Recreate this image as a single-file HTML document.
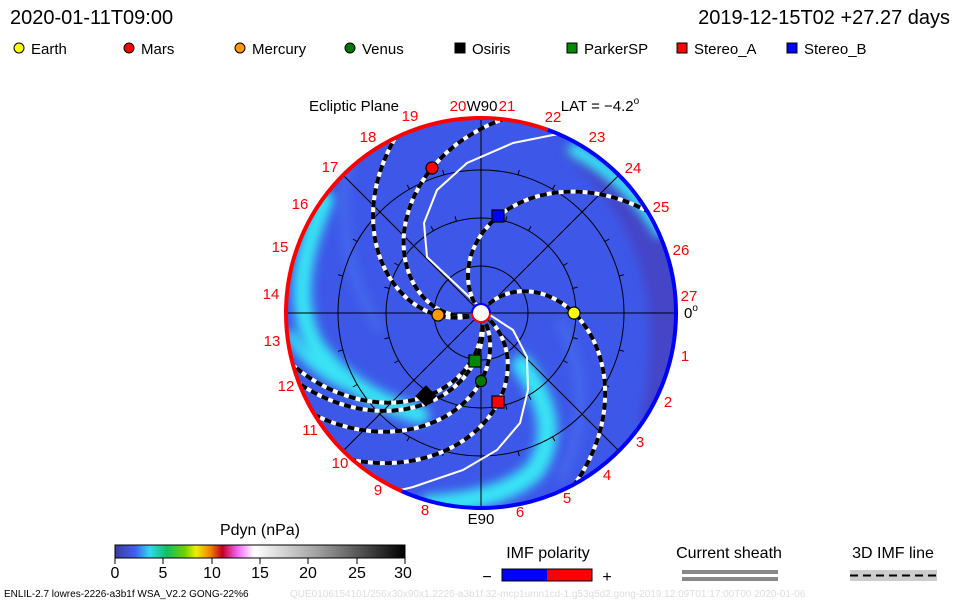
<!DOCTYPE html>
<html><head><meta charset="utf-8"><style>
html,body{margin:0;padding:0;background:#fff;}
svg{display:block;font-family:"Liberation Sans",sans-serif;}
</style></head><body>
<svg id="s" width="960" height="600" viewBox="0 0 960 600" xmlns="http://www.w3.org/2000/svg">
<defs>
<clipPath id="cc"><circle cx="481" cy="313" r="195"/></clipPath>
<filter id="bl" x="-20%" y="-20%" width="140%" height="140%"><feGaussianBlur stdDeviation="5"/></filter>
<linearGradient id="cb" x1="0" x2="1" y1="0" y2="0">
<stop offset="0" stop-color="#3a3aa0"/><stop offset="0.07" stop-color="#4060f0"/><stop offset="0.12" stop-color="#30d8f0"/><stop offset="0.18" stop-color="#10c060"/><stop offset="0.24" stop-color="#70d000"/><stop offset="0.28" stop-color="#f0f000"/><stop offset="0.33" stop-color="#f08000"/><stop offset="0.37" stop-color="#c00020"/><stop offset="0.42" stop-color="#f060f0"/><stop offset="0.48" stop-color="#ffffff"/><stop offset="0.7" stop-color="#a0a0a0"/><stop offset="1" stop-color="#000"/>
</linearGradient>
</defs>
<text x="10" y="24" font-size="20">2020-01-11T09:00</text>
<text x="950" y="24" font-size="20" text-anchor="end">2019-12-15T02 +27.27 days</text>
<g font-size="15" stroke="#000" stroke-width="1">
<circle cx="19" cy="48" r="5" fill="#ff0"/><circle cx="129" cy="48" r="5" fill="#f00"/><circle cx="240" cy="48" r="5" fill="#f90"/><circle cx="350" cy="48" r="5" fill="#070"/>
<rect x="455" y="43" width="10" height="10" fill="#000"/><rect x="567" y="43" width="10" height="10" fill="#080"/><rect x="677" y="43" width="10" height="10" fill="#f00"/><rect x="787" y="43" width="10" height="10" fill="#00f"/>
</g>
<g font-size="15"><text x="31" y="54">Earth</text><text x="141" y="54">Mars</text><text x="252" y="54">Mercury</text><text x="362" y="54">Venus</text><text x="472" y="54">Osiris</text><text x="584" y="54">ParkerSP</text><text x="694" y="54">Stereo_A</text><text x="804" y="54">Stereo_B</text></g>

<g clip-path="url(#cc)">
<circle cx="481" cy="313" r="195" fill="#3d58e8"/>
<path d="M560,150 Q680,250 640,420 L700,500 L700,120 Z" fill="#4444c8" filter="url(#bl)"/>
<g fill="none" stroke="#38e4f4" stroke-linecap="round" filter="url(#bl)">
<path d="M325,200 Q285,290 315,345 Q350,395 420,415" stroke-width="18"/>
<path d="M522,365 Q565,425 535,470 Q505,500 430,505" stroke-width="20"/>
<path d="M575,150 Q630,180 660,230" stroke-width="14"/>
<path d="M290,335 Q305,365 345,385" stroke-width="10"/>
</g>
<g fill="none" stroke="#4a70f0" stroke-width="10" filter="url(#bl)" opacity="0.7">
<path d="M350,150 Q330,250 380,330"/><path d="M560,320 Q600,400 560,480"/>
</g>
<g stroke="#000" stroke-width="1" fill="none">
<circle cx="481" cy="313" r="47"/><circle cx="481" cy="313" r="95"/><circle cx="481" cy="313" r="143"/>
<line x1="286" y1="313" x2="676" y2="313"/><line x1="481" y1="118" x2="481" y2="508"/>
<line x1="343" y1="175" x2="619" y2="451"/><line x1="343" y1="451" x2="619" y2="175"/>
</g>
<g id="ticks" stroke="#000" stroke-width="1"></g>
<g fill="none" stroke="#fff" stroke-width="2">
<polyline points="480,307 427,257 424,223 437,190 467,163 513,143 553,135 580,133"/>
<polyline points="490,315 513,330 527,357 528,390 520,423 497,450 463,470 413,487 380,495"/>
</g>
<g id="sp"></g>
</g>
<path id="rimb" fill="none" stroke="#0000ff" stroke-width="4"/>
<path id="rimr" fill="none" stroke="#ff0000" stroke-width="4"/>
<circle cx="481" cy="313" r="9" fill="#fff" stroke="#f00" stroke-width="2"/>
<path d="M472,313 A9,9 0 0 1 490,313" fill="none" stroke="#00f" stroke-width="2"/>
<g stroke="#000" stroke-width="1.2">
<circle cx="574" cy="313" r="6" fill="#ff0"/><circle cx="432" cy="168" r="6" fill="#f00"/><circle cx="438" cy="315" r="6" fill="#f90"/><circle cx="481" cy="381" r="5.5" fill="#070"/>
<rect x="419" y="389" width="14" height="14" fill="#000" transform="rotate(45 426 396)"/>
<rect x="469" y="355" width="12" height="12" fill="#080"/><rect x="492" y="396" width="12" height="12" fill="#f00"/><rect x="492" y="210" width="12" height="12" fill="#00f"/>
</g>
<g font-size="15" fill="#f00" text-anchor="middle" id="lbl"></g>
<text x="354" y="111" font-size="15" text-anchor="middle">Ecliptic Plane</text>
<text x="482" y="111" font-size="15" text-anchor="middle">W90</text>
<text x="600" y="111" font-size="15" text-anchor="middle">LAT = −4.2<tspan font-size="10" dy="-7">o</tspan></text>
<text x="691" y="318" font-size="15" text-anchor="middle">0<tspan font-size="10" dy="-7">o</tspan></text>
<text x="481" y="524" font-size="15" text-anchor="middle">E90</text>

<text x="260" y="535" font-size="16" text-anchor="middle">Pdyn (nPa)</text>
<rect x="115" y="545" width="290" height="13" fill="url(#cb)" stroke="#000"/>
<g stroke="#000"><line x1="115" y1="558" x2="115" y2="564"/><line x1="163" y1="558" x2="163" y2="564"/><line x1="212" y1="558" x2="212" y2="564"/><line x1="260" y1="558" x2="260" y2="564"/><line x1="308" y1="558" x2="308" y2="564"/><line x1="357" y1="558" x2="357" y2="564"/><line x1="405" y1="558" x2="405" y2="564"/></g>
<g font-size="16" text-anchor="middle"><text x="115" y="578">0</text><text x="163" y="578">5</text><text x="212" y="578">10</text><text x="260" y="578">15</text><text x="308" y="578">20</text><text x="357" y="578">25</text><text x="403" y="578">30</text></g>
<text x="548" y="558" font-size="16" text-anchor="middle">IMF polarity</text>
<text x="487" y="582" font-size="16" text-anchor="middle">−</text>
<rect x="502" y="569" width="45" height="12" fill="#00f"/><rect x="547" y="569" width="45" height="12" fill="#f00"/><rect x="502" y="569" width="90" height="12" fill="none" stroke="#000"/>
<text x="607" y="582" font-size="16" text-anchor="middle">+</text>
<text x="729" y="558" font-size="16" text-anchor="middle">Current sheath</text>
<rect x="682" y="570" width="96" height="4" fill="#888"/><rect x="682" y="577" width="96" height="4" fill="#888"/>
<text x="893" y="558" font-size="16" text-anchor="middle">3D IMF line</text>
<rect x="850" y="570" width="87" height="11" fill="#ccc"/>
<line x1="850" y1="575.5" x2="937" y2="575.5" stroke="#000" stroke-width="2" stroke-dasharray="8 5"/>
<text x="4" y="597" font-size="10">ENLIL-2.7 lowres-2226-a3b1f WSA_V2.2 GONG-22%6</text>
<text x="290" y="597" font-size="10" fill="#ddd">QUE0106154101/256x30x90x1.2226-a3b1f.32-mcp1umn1cd-1.g53q5d2.gong-2019:12:09T01:17:00T00    2020-01-06</text>
</svg>
<script>
(function(){
var NS="http://www.w3.org/2000/svg",cx=481,cy=313,d2r=Math.PI/180;
function el(t,a,p){var e=document.createElementNS(NS,t);for(var k in a)e.setAttribute(k,a[k]);p.appendChild(e);return e;}
var L=[[93,0,0.6],[153,-108.7,0.6],[43,177,0.44],[68,90,0.46],[100,123.5,0.43],[48,97,0.42],[91,79,0.5],[98,-80,0.5]];
var sp=document.getElementById("sp");
L.forEach(function(l){var pts=[];for(var r=12;r<=200;r+=3){var t=(l[1]+(r-l[0])*l[2])*d2r;pts.push((cx+r*Math.cos(t)).toFixed(1)+","+(cy+r*Math.sin(t)).toFixed(1));}
var s=pts.join(" ");
el("polyline",{points:s,fill:"none",stroke:"#fff","stroke-width":4},sp);
el("polyline",{points:s,fill:"none",stroke:"#000","stroke-width":4,"stroke-dasharray":"7 5"},sp);});
var tk=document.getElementById("ticks");
[95,143].forEach(function(R){for(var a=0;a<360;a+=15){var t=a*d2r;el("line",{x1:cx+R*Math.cos(t),y1:cy+R*Math.sin(t),x2:cx+(R+5)*Math.cos(t),y2:cy+(R+5)*Math.sin(t)},tk);}});
function arc(a1,a2){var R=195,p1=[cx+R*Math.cos(a1*d2r),cy+R*Math.sin(a1*d2r)],p2=[cx+R*Math.cos(a2*d2r),cy+R*Math.sin(a2*d2r)];return "M"+p1+" A195,195 0 "+((a2-a1)>180?1:0)+" 1 "+p2;}
document.getElementById("rimr").setAttribute("d",arc(114,290));
document.getElementById("rimb").setAttribute("d",arc(-70,114));
var P={1:[685,361],2:[668,407],3:[640,447],4:[607,480],5:[567,503],6:[520,517],8:[425,515],9:[378,495],10:[340,468],11:[310,435],12:[286,391],13:[272,346],14:[271,299],15:[280,252],16:[300,209],17:[330,172],18:[368,142],19:[410,121],20:[458,111],21:[507,111],22:[553,122],23:[597,142],24:[633,173],25:[661,212],26:[681,255],27:[689,301]};
var lb=document.getElementById("lbl");
for(var k in P){var t=el("text",{x:P[k][0],y:P[k][1]},lb);t.textContent=k;}
})();
</script>
</body></html>
